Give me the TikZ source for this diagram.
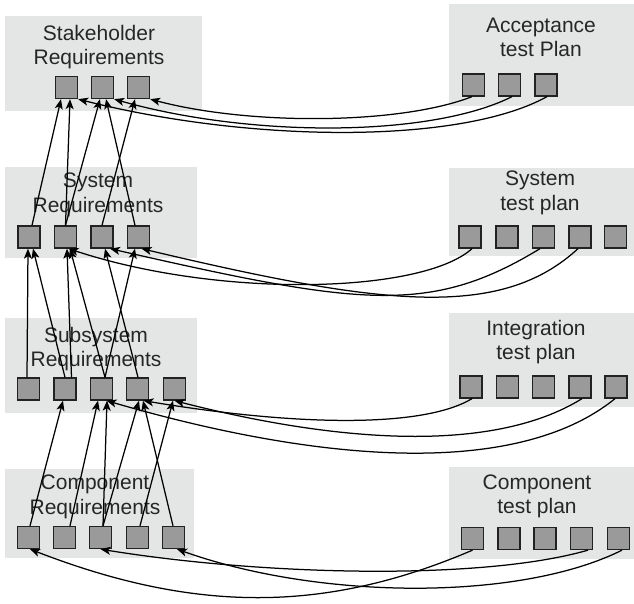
\documentclass[tikz,border=0pt]{standalone}
\usepackage{fontspec}
\setmainfont{Liberation Sans}
\usetikzlibrary{arrows.meta}
\definecolor{bgc}{HTML}{E4E6E5}
\definecolor{sqc}{HTML}{9A9A9A}
\definecolor{sqd}{HTML}{222222}
\begin{document}
\begin{tikzpicture}[x=1pt,y=-1pt,
  bg/.style={fill=bgc},
  sq/.style={draw=sqd, fill=sqc, line width=1.3pt, minimum size=22pt, inner sep=0pt},
  lbl/.style={font=\fontsize{21}{25}\selectfont, text=black!85, anchor=base, inner sep=0pt},
  arr/.style={line width=1.25pt, black, -{Stealth[length=10pt,width=8pt,inset=2.5pt]}}
]
\useasboundingbox (0,0) rectangle (634,603);
% backgrounds
\path[bg] (5,16) rectangle (202,111);
\path[bg] (449,4) rectangle (634,106);
\path[bg] (5,167) rectangle (197,258);
\path[bg] (449,168) rectangle (634,256);
\path[bg] (5,318) rectangle (197,413);
\path[bg] (449,313) rectangle (634,407);
\path[bg] (5,469) rectangle (194,558);
\path[bg] (449,467) rectangle (634,559);
% labels
\node[lbl] (stk1) at (99,40) {Stakeholder};
\node[lbl] (stk2) at (99,64) {Requirements};
\node[lbl] (acc1) at (541,32) {Acceptance};
\node[lbl] (acc2) at (541,56) {test Plan};
\node[lbl] (sys1t) at (98,187) {System};
\node[lbl] (sys2t) at (98,212) {Requirements};
\node[lbl] (stp1) at (540,185) {System};
\node[lbl] (stp2) at (540,210) {test plan};
\node[lbl] (sub1t) at (96,342) {Subsystem};
\node[lbl] (sub2t) at (96,366) {Requirements};
\node[lbl] (itp1) at (536,335) {Integration};
\node[lbl] (itp2) at (536,359) {test plan};
\node[lbl] (cmp1) at (95,489) {Component};
\node[lbl] (cmp2) at (95,514) {Requirements};
\node[lbl] (ctp1) at (537,489) {Component};
\node[lbl] (ctp2) at (537,513) {test plan};
% squares
\node[sq] (s1) at (66.5,87.5) {};
\node[sq] (s2) at (102.5,87.5) {};
\node[sq] (s3) at (138.5,87.5) {};
\node[sq] (a1) at (473.5,85) {};
\node[sq] (a2) at (509.5,85) {};
\node[sq] (a3) at (546,85) {};
\node[sq] (y1) at (29,237) {};
\node[sq] (y2) at (65.5,237) {};
\node[sq] (y3) at (102,237) {};
\node[sq] (y4) at (138.5,237) {};
\node[sq] (t1) at (470,237) {};
\node[sq] (t2) at (507,237) {};
\node[sq] (t3) at (543.5,237) {};
\node[sq] (t4) at (580,237) {};
\node[sq] (t5) at (615.5,237) {};
\node[sq] (u1) at (28.5,389) {};
\node[sq] (u2) at (65,389) {};
\node[sq] (u3) at (101.5,389) {};
\node[sq] (u4) at (137.5,389) {};
\node[sq] (u5) at (174.5,389) {};
\node[sq] (i1) at (471,387) {};
\node[sq] (i2) at (507.5,387) {};
\node[sq] (i3) at (543.5,387) {};
\node[sq] (i4) at (580,387) {};
\node[sq] (i5) at (616,387) {};
\node[sq] (c1) at (28.5,537.5) {};
\node[sq] (c2) at (64.5,537.5) {};
\node[sq] (c3) at (100.5,537.5) {};
\node[sq] (c4) at (137.5,537.5) {};
\node[sq] (c5) at (173.5,537.5) {};
\node[sq] (k1) at (472.5,538.5) {};
\node[sq] (k2) at (509,538.5) {};
\node[sq] (k3) at (545,538.5) {};
\node[sq] (k4) at (581.5,538.5) {};
\node[sq] (k5) at (618.5,538.5) {};
% vertical traces: system -> stakeholder
\draw[arr] ([xshift=3pt]y1.north) -- ([xshift=-5.5pt]s1.south);
\draw[arr] (y2.north) -- ([xshift=3.5pt]s1.south);
\draw[arr] (y2.north) -- ([xshift=-2.5pt]s2.south);
\draw[arr] (y3.north) -- ([xshift=-3.5pt]s3.south);
\draw[arr] ([xshift=-3.5pt]y4.north) -- ([xshift=3.5pt]s2.south);
% subsystem -> system
\draw[arr] ([xshift=-1.5pt]u1.north) -- ([xshift=-1pt]y1.south);
\draw[arr] (u2.north) -- ([xshift=4pt]y1.south);
\draw[arr] ([xshift=6.5pt]u2.north) -- ([xshift=1.5pt]y2.south);
\draw[arr] ([xshift=3.5pt]u3.north) -- ([xshift=4.5pt]y2.south);
\draw[arr] ([xshift=3.5pt]u3.north) -- ([xshift=-3.5pt]y4.south);
\draw[arr] ([xshift=0.5pt]u4.north) -- ([xshift=3pt]y3.south);
% component -> subsystem
\draw[arr] ([xshift=1.5pt]c1.north) -- ([xshift=-2pt]u2.south);
\draw[arr] ([xshift=5.5pt]c2.north) -- ([xshift=-3.5pt]u3.south);
\draw[arr] ([xshift=2.5pt]c3.north) -- ([xshift=5.5pt]u3.south);
\draw[arr] ([xshift=2.5pt]c3.north) -- ([xshift=1.5pt]u4.south);
\draw[arr] ([xshift=2.5pt]c4.north) -- ([xshift=-1.5pt]u5.south);
\draw[arr] ([xshift=-0.5pt]c5.north) -- ([xshift=5.5pt]u4.south);
% acceptance -> stakeholder
\draw[arr] ([xshift=-1.5pt]a1.south) .. controls +(-72,28) and +(100,26.5) .. (s3.south east);
\draw[arr] ([xshift=2.5pt]a2.south) .. controls +(-82,41) and +(136,38.5) .. (s2.south east);
\draw[arr] ([xshift=1pt]a3.south) .. controls +(-87,48) and +(172,43.5) .. (s1.south east);
% system test -> system
\draw[arr] ([xshift=2pt]t1.south) .. controls +(-50,45) and +(151.5,50) .. ([xshift=3pt]y2.south);
\draw[arr] ([xshift=-3.5pt]t3.south) .. controls +(-110,67) and +(250,57) .. ([xshift=8pt]y3.south);
\draw[arr] ([xshift=-2pt]t4.south) .. controls +(-78,72) and +(238.5,56.5) .. ([xshift=3pt]y4.south);
% integration -> subsystem
\draw[arr] ([xshift=1pt]i1.south) .. controls +(-50,30) and +(150,25) .. ([xshift=6pt]u4.south);
\draw[arr] ([xshift=2pt]i4.south) .. controls +(-92,57) and +(155.5,40) .. (u5.south);
\draw[arr] ([xshift=-1pt]i5.south) .. controls +(-95,77) and +(223.5,65) .. ([xshift=5pt]u3.south);
% component test -> component
\draw[arr] (k1.south) .. controls +(-142.5,61) and +(170,66) .. ([xshift=1.5pt]c1.south);
\draw[arr] ([xshift=6.5pt]k4.south) .. controls +(-108,31) and +(159.5,26) .. (c3.south);
\draw[arr] ([xshift=3.5pt]k5.south) .. controls +(-102,51) and +(143,51) .. ([xshift=3.5pt]c5.south);
\end{tikzpicture}
\end{document}
